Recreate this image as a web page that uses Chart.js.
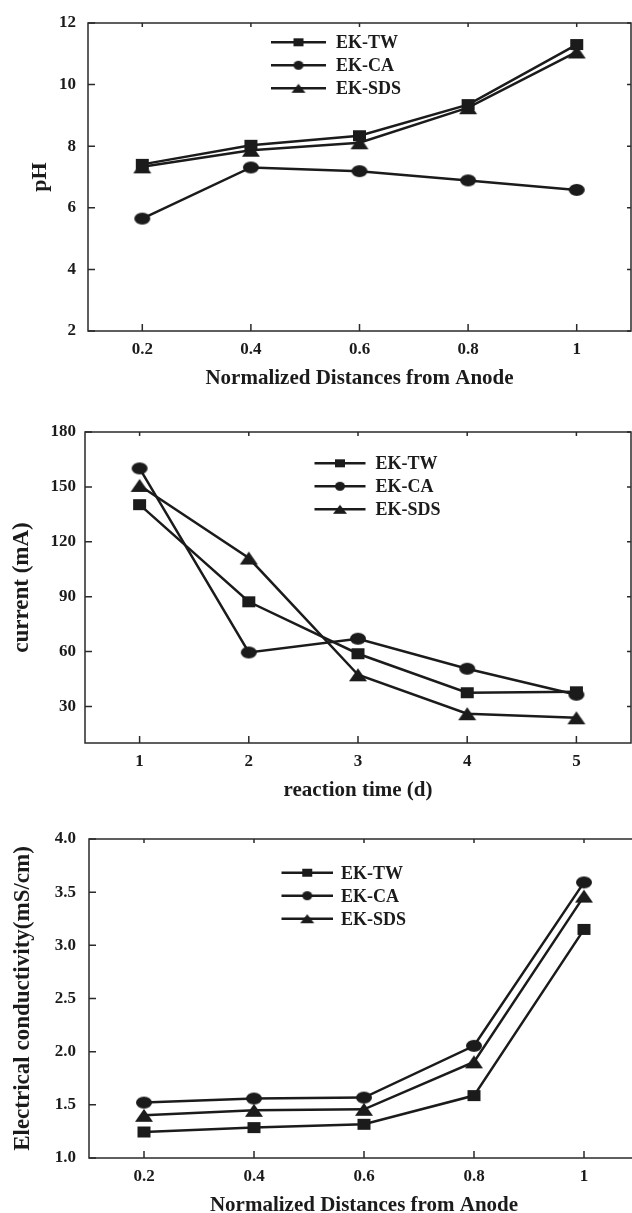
<!DOCTYPE html>
<html><head><meta charset="utf-8">
<script src="https://cdn.jsdelivr.net/npm/chart.js@4/dist/chart.umd.min.js"></script>
<style>
html,body{margin:0;padding:0;background:#fff;overflow:hidden;width:632px;height:1213px;position:relative;}
canvas{position:absolute;left:0;}
</style></head><body>
<canvas id="c1" width="632" height="396" style="top:0px"></canvas>
<canvas id="c2" width="632" height="408" style="top:400px"></canvas>
<canvas id="c3" width="640" height="415" style="top:808px"></canvas>
<script>
// ---------- data ----------
const seriesNames = ['EK-TW', 'EK-CA', 'EK-SDS'];
const distances = [0.2, 0.4, 0.6, 0.8, 1];
const days = [1, 2, 3, 4, 5];

const pH_TW  = [7.41, 8.03, 8.34, 9.35, 11.30];
const pH_CA  = [5.65, 7.31, 7.19, 6.89, 6.58];
const pH_SDS = [7.33, 7.87, 8.11, 9.25, 11.06];

const cur_TW  = [140.3, 87.2, 58.8, 37.5, 38.0];
const cur_CA  = [160.1, 59.5, 67.0, 50.6, 36.4];
const cur_SDS = [150.8, 111.1, 47.3, 26.0, 23.8];

const ec_TW  = [1.245, 1.286, 1.317, 1.587, 3.15];
const ec_CA  = [1.521, 1.559, 1.568, 2.055, 3.592];
const ec_SDS = [1.402, 1.449, 1.458, 1.904, 3.463];

const pHTicks = [2, 4, 6, 8, 10, 12];
const currentTicks = [30, 60, 90, 120, 150, 180];
const ecTicks = [1.0, 1.5, 2.0, 2.5, 3.0, 3.5, 4.0];

// ---------- style ----------
const INK = '#1b1b1b';
const FAMILY = "'Liberation Serif', 'Times New Roman', serif";

function makeMarker(shape, w, h) {
  const c = document.createElement('canvas');
  c.width = w + 2; c.height = h + 2;
  const g = c.getContext('2d');
  g.fillStyle = INK;
  const cx = (w + 2) / 2, cy = (h + 2) / 2;
  g.beginPath();
  if (shape === 'circle') g.ellipse(cx, cy, w / 2, h / 2, 0, 0, Math.PI * 2);
  else if (shape === 'rect') g.rect(cx - w / 2, cy - h / 2, w, h);
  else { g.moveTo(cx, cy - h / 2); g.lineTo(cx + w / 2, cy + h / 2); g.lineTo(cx - w / 2, cy + h / 2); g.closePath(); }
  g.fill();
  return c;
}
const bigMarkers = [makeMarker('rect', 13, 11), makeMarker('circle', 16, 12), makeMarker('triangle', 18, 13)];
const smallMarkers = [makeMarker('rect', 10, 8), makeMarker('circle', 10, 9), makeMarker('triangle', 14, 9)];

const framePlugin = {
  id: 'frame',
  beforeDatasetsDraw(chart) {
    const {ctx, chartArea: a, scales: {x, y}} = chart;
    ctx.save();
    ctx.strokeStyle = '#2a2a2a';
    ctx.lineWidth = 1.5;
    ctx.strokeRect(a.left, a.top, a.right - a.left, a.bottom - a.top);
    ctx.beginPath();
    x.ticks.forEach(t => {
      const px = x.getPixelForValue(t.value);
      ctx.moveTo(px, a.bottom); ctx.lineTo(px, a.bottom - 7);
      ctx.moveTo(px, a.top); ctx.lineTo(px, a.top + 4);
    });
    y.ticks.forEach(t => {
      const py = y.getPixelForValue(t.value);
      ctx.moveTo(a.left, py); ctx.lineTo(a.left + 7, py);
      ctx.moveTo(a.right, py); ctx.lineTo(a.right - 4, py);
    });
    ctx.stroke();
    ctx.restore();
  }
};

const legendPlugin = {
  id: 'lineLegend',
  afterDatasetsDraw(chart, args, opts) {
    const {ctx} = chart;
    ctx.save();
    chart.data.datasets.forEach((ds, i) => {
      const yy = opts.y + i * opts.rowH;
      ctx.strokeStyle = INK;
      ctx.lineWidth = 2.5;
      ctx.beginPath();
      ctx.moveTo(opts.x, yy); ctx.lineTo(opts.x + opts.len, yy);
      ctx.stroke();
      const m = smallMarkers[i];
      ctx.drawImage(m, opts.x + opts.len / 2 - m.width / 2, yy - m.height / 2);
      ctx.fillStyle = INK;
      ctx.font = 'bold 18px ' + FAMILY;
      ctx.textBaseline = 'alphabetic';
      ctx.textAlign = 'left';
      ctx.fillText(ds.label, opts.x + opts.len + opts.gap, yy + 6);
    });
    ctx.restore();
  }
};

function makeDatasets(xs, series) {
  return series.map((ys, i) => ({
    label: seriesNames[i],
    data: xs.map((xv, j) => ({x: xv, y: ys[j]})),
    borderColor: INK,
    backgroundColor: INK,
    borderWidth: 2.5,
    pointStyle: bigMarkers[i],
    pointRadius: 8,
    tension: 0,
    fill: false
  }));
}

function makeChart(id, o) {
  return new Chart(document.getElementById(id), {
    type: 'line',
    data: {datasets: makeDatasets(o.xs, o.series)},
    plugins: [framePlugin, legendPlugin],
    options: {
      responsive: false,
      animation: false,
      devicePixelRatio: 1,
      layout: {autoPadding: false, padding: {top: o.padTop, right: o.padRight, left: 0, bottom: 0}},
      plugins: {
        legend: {display: false},
        tooltip: {enabled: false},
        lineLegend: o.legend
      },
      scales: {
        x: {
          type: 'linear', min: o.xMin, max: o.xMax,
          afterBuildTicks: s => { s.ticks = o.xs.map(v => ({value: v})); },
          afterFit: s => { s.height = 65; s.paddingLeft = 0; s.paddingRight = 0; },
          grid: {display: false, drawTicks: false},
          border: {display: false},
          ticks: {
            color: INK, padding: 8, maxRotation: 0, autoSkip: false,
            font: {family: FAMILY, size: 17, weight: 'bold'},
            callback: v => String(Math.round(v * 10) / 10)
          },
          title: {
            display: true, text: o.xTitle, color: INK,
            font: {family: FAMILY, size: 21, weight: 'bold'},
            padding: {top: 0, bottom: 5}
          }
        },
        y: {
          type: 'linear', min: o.yMin, max: o.yMax,
          afterBuildTicks: s => { s.ticks = o.yTicks.map(v => ({value: v})); },
          afterFit: s => { s.width = o.yWidth; s.paddingTop = 0; s.paddingBottom = 0; },
          grid: {display: false, drawTicks: false},
          border: {display: false},
          ticks: {
            color: INK, padding: o.yPad, autoSkip: false,
            font: {family: FAMILY, size: 17, weight: 'bold'},
            callback: o.yFmt
          },
          title: {
            display: true, text: o.yTitle, color: INK,
            font: {family: FAMILY, size: o.yTitleSize, weight: 'bold'},
            padding: {top: o.yTitlePad, bottom: 0}
          }
        }
      }
    }
  });
}

makeChart('c1', {
  xs: distances, series: [pH_TW, pH_CA, pH_SDS],
  xMin: 0.1, xMax: 1.1, yMin: 2, yMax: 12, yTicks: pHTicks,
  yFmt: v => String(v), yWidth: 88, yPad: 12,
  padTop: 23, padRight: 1,
  xTitle: 'Normalized Distances from Anode',
  yTitle: 'pH', yTitleSize: 22, yTitlePad: 27,
  legend: {x: 271, y: 42.3, len: 55, gap: 10, rowH: 23}
});

makeChart('c2', {
  xs: days, series: [cur_TW, cur_CA, cur_SDS],
  xMin: 0.5, xMax: 5.5, yMin: 10, yMax: 180, yTicks: currentTicks,
  yFmt: v => String(v), yWidth: 85, yPad: 9,
  padTop: 32, padRight: 1,
  xTitle: 'reaction time (d)',
  yTitle: 'current (mA)', yTitleSize: 23, yTitlePad: 8,
  legend: {x: 314.5, y: 63.3, len: 51, gap: 10, rowH: 23}
});

makeChart('c3', {
  xs: distances, series: [ec_TW, ec_CA, ec_SDS],
  xMin: 0.1, xMax: 1.1, yMin: 1.0, yMax: 4.0, yTicks: ecTicks,
  yFmt: v => v.toFixed(1), yWidth: 89, yPad: 13,
  padTop: 31, padRight: 1,
  xTitle: 'Normalized Distances from Anode',
  yTitle: 'Electrical conductivity(mS/cm)', yTitleSize: 23, yTitlePad: 9,
  legend: {x: 281.5, y: 64.7, len: 51.5, gap: 8, rowH: 23}
});
</script>
</body></html>
